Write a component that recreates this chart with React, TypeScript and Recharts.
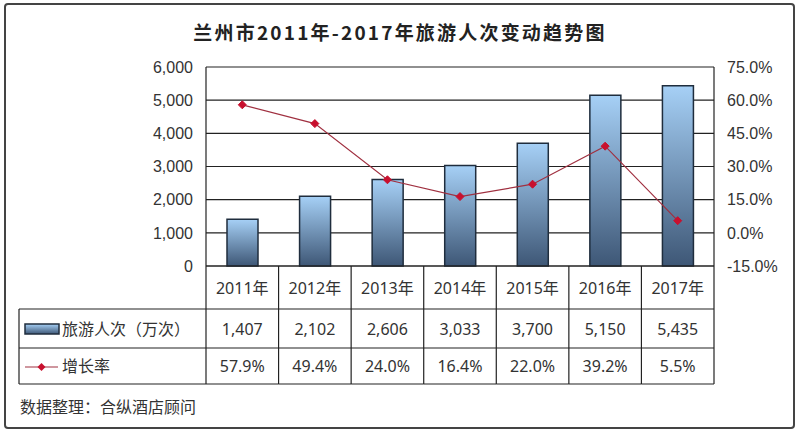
import React from 'react';
import { ComposedChart, Bar, Line, XAxis, YAxis, CartesianGrid } from 'recharts';

const categories = ['2011年', '2012年', '2013年', '2014年', '2015年', '2016年', '2017年'];
const visitors = [1407, 2102, 2606, 3033, 3700, 5150, 5435];
const growth = [57.9, 49.4, 24.0, 16.4, 22.0, 39.2, 5.5];
const leftTicks = [0, 1000, 2000, 3000, 4000, 5000, 6000];
const rightTicks = [-15, 0, 15, 30, 45, 60, 75];
const barName = '旅游人次（万次）';
const lineName = '增长率';
const title = '兰州市2011年-2017年旅游人次变动趋势图';
const source = '数据整理：合纵酒店顾问';

const data = categories.map((c, i) => ({ name: c, visitors: visitors[i], growth: growth[i] }));

const W = 800;
const H = 433;
const PLOT_LEFT = 206;
const PLOT_RIGHT = 714;
const PLOT_TOP = 67;
const PLOT_BOTTOM = 266;
const ROW1 = 309;
const ROW2 = 348;
const ROW3 = 384;
const TABLE_LEFT = 19;
const LINE_COLOR = '#222';
const TEXT_COLOR = '#333';
const TABLE_FONT = '"Noto Sans", "Noto Sans CJK SC", sans-serif';
const AXIS_FONT = '"Liberation Sans", Arial, sans-serif';

const fmtNum = (v: number) => v.toLocaleString('en-US');
const fmtPct = (v: number) => v.toFixed(1) + '%';

const TableColumn = (props: any) => {
  const { x, y, index, payload } = props;
  const colW = (PLOT_RIGHT - PLOT_LEFT) / categories.length;
  const l = x - colW / 2;
  const r = x + colW / 2;
  const i = index ?? categories.indexOf(payload.value);
  return (
    <g>
      <line x1={l} x2={l} y1={y} y2={ROW3} stroke={LINE_COLOR} strokeWidth={1.2} />
      {i === categories.length - 1 && (
        <line x1={r} x2={r} y1={y} y2={ROW3} stroke={LINE_COLOR} strokeWidth={1.2} />
      )}
      <line x1={l} x2={r} y1={ROW1} y2={ROW1} stroke={LINE_COLOR} strokeWidth={1.2} />
      <line x1={l} x2={r} y1={ROW2} y2={ROW2} stroke={LINE_COLOR} strokeWidth={1.2} />
      <line x1={l} x2={r} y1={ROW3} y2={ROW3} stroke={LINE_COLOR} strokeWidth={1.2} />
      <text x={x} y={(y + ROW1) / 2} textAnchor="middle" dominantBaseline="central" fontSize={16} fontFamily={TABLE_FONT} fill={TEXT_COLOR}>
        {payload.value}
      </text>
      <text x={x} y={(ROW1 + ROW2) / 2} textAnchor="middle" dominantBaseline="central" fontSize={16} fontFamily={TABLE_FONT} fill={TEXT_COLOR}>
        {fmtNum(visitors[i])}
      </text>
      <text x={x} y={(ROW2 + ROW3) / 2} textAnchor="middle" dominantBaseline="central" fontSize={16} fontFamily={TABLE_FONT} fill={TEXT_COLOR}>
        {fmtPct(growth[i])}
      </text>
    </g>
  );
};

const Diamond = (props: any) => {
  const { cx, cy, index } = props;
  if (cx == null || cy == null) return <g key={`d-${index}`} />;
  const s = 4;
  return (
    <path
      key={`d-${index}`}
      d={`M${cx},${cy - s} L${cx + s},${cy} L${cx},${cy + s} L${cx - s},${cy} Z`}
      fill="#c8102e"
      stroke="#c8102e"
    />
  );
};

export default function App() {
  return (
    <div style={{ position: 'absolute', left: 0, top: 0, width: W, height: H, background: '#fff' }}>
      <svg width={W} height={H} style={{ position: 'absolute', left: 0, top: 0 }}>
        <defs>
          <linearGradient id="legendGrad" x1="0" y1="0" x2="0" y2="1">
            <stop offset="0%" stopColor="#a6d0f6" />
            <stop offset="100%" stopColor="#3e5776" />
          </linearGradient>
        </defs>
        <rect x={5} y={4} width={789} height={424} rx={3} fill="#fff" stroke="#444" strokeWidth={2} />
        <text x={400} y={31} textAnchor="middle" dominantBaseline="central" fontSize={19} fontWeight={700} letterSpacing={2.2} fontFamily='"Noto Sans CJK SC", sans-serif' fill="#222">
          {title}
        </text>
        <line x1={TABLE_LEFT} x2={PLOT_LEFT} y1={ROW1} y2={ROW1} stroke={LINE_COLOR} strokeWidth={1.2} />
        <line x1={TABLE_LEFT} x2={PLOT_LEFT} y1={ROW2} y2={ROW2} stroke={LINE_COLOR} strokeWidth={1.2} />
        <line x1={TABLE_LEFT} x2={PLOT_LEFT} y1={ROW3} y2={ROW3} stroke={LINE_COLOR} strokeWidth={1.2} />
        <line x1={TABLE_LEFT} x2={TABLE_LEFT} y1={ROW1} y2={ROW3} stroke={LINE_COLOR} strokeWidth={1.2} />
        <rect x={25} y={324} width={34} height={10} fill="url(#legendGrad)" stroke="#1f2d3d" strokeWidth={1.5} />
        <text x={62} y={(ROW1 + ROW2) / 2} dominantBaseline="central" fontSize={16} fontFamily={TABLE_FONT} fill={TEXT_COLOR}>
          {barName}
        </text>
        <line x1={25} x2={58} y1={367} y2={367} stroke="#a03040" strokeWidth={1.2} />
        <path d="M41.5,363 L45.5,367 L41.5,371 L37.5,367 Z" fill="#c8102e" />
        <text x={62} y={(ROW2 + ROW3) / 2} dominantBaseline="central" fontSize={16} fontFamily={TABLE_FONT} fill={TEXT_COLOR}>
          {lineName}
        </text>
        <text x={20} y={407} dominantBaseline="central" fontSize={16} fontFamily={TABLE_FONT} fill={TEXT_COLOR}>
          {source}
        </text>
      </svg>
      <div style={{ position: 'absolute', left: 0, top: 0 }}>
        <ComposedChart
          width={W}
          height={H}
          data={data}
          margin={{ top: PLOT_TOP, right: 0, bottom: H - ROW3 - 0 + (ROW3 - PLOT_BOTTOM) - 120, left: 0 }}
        >
          <defs>
            <linearGradient id="barGrad" x1="0" y1="0" x2="0" y2="1">
              <stop offset="0%" stopColor="#a6d0f6" />
              <stop offset="100%" stopColor="#3e5776" />
            </linearGradient>
          </defs>
          <CartesianGrid vertical={false} stroke={LINE_COLOR} strokeWidth={1.2} yAxisId="left" />
          <XAxis
            dataKey="name"
            height={120}
            interval={0}
            tickSize={0}
            tickMargin={0}
            tickLine={false}
            axisLine={{ stroke: LINE_COLOR, strokeWidth: 1.2 }}
            tick={(p: any) => <TableColumn {...p} />}
          />
          <YAxis
            yAxisId="left"
            width={PLOT_LEFT}
            domain={[0, 6000]}
            ticks={leftTicks}
            tickFormatter={fmtNum}
            tickLine={false}
            tickSize={5}
            tickMargin={8}
            axisLine={{ stroke: LINE_COLOR, strokeWidth: 1.2 }}
            tick={{ fontSize: 16, fontFamily: AXIS_FONT, fill: TEXT_COLOR }}
          />
          <YAxis
            yAxisId="right"
            orientation="right"
            width={W - PLOT_RIGHT}
            domain={[-15, 75]}
            ticks={rightTicks}
            tickFormatter={(v: number) => v.toFixed(1) + '%'}
            tickLine={false}
            tickSize={5}
            tickMargin={8}
            axisLine={{ stroke: LINE_COLOR, strokeWidth: 1.2 }}
            tick={{ fontSize: 16, fontFamily: AXIS_FONT, fill: TEXT_COLOR, textAnchor: 'start' }}
          />
          <Bar
            yAxisId="left"
            dataKey="visitors"
            barSize={31}
            fill="url(#barGrad)"
            stroke="#1f2d3d"
            strokeWidth={1.5}
            isAnimationActive={false}
          />
          <Line
            yAxisId="right"
            dataKey="growth"
            stroke="#a03040"
            strokeWidth={1.2}
            dot={(p: any) => <Diamond {...p} />}
            activeDot={false}
            isAnimationActive={false}
          />
        </ComposedChart>
      </div>
    </div>
  );
}
